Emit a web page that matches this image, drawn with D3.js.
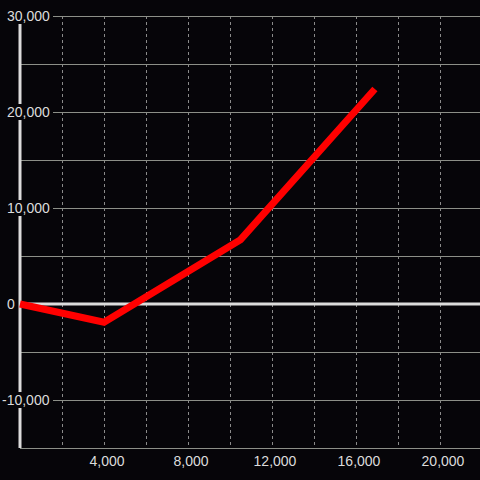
<!DOCTYPE html>
<html>
<head>
<meta charset="utf-8">
<script src="https://cdn.jsdelivr.net/npm/d3@7"></script>
<style>
  body { margin: 0; background: #060509; }
  svg { display: block; }
</style>
</head>
<body>
<div id="chart"></div>
<script>
const width = 480;
const height = 480;

// data
const xValues = [0, 4000, 10500, 16900];
const yValues = [0, -1900, 6700, 22400];
const xTicks = [4000, 8000, 12000, 16000, 20000];
const xGrid = [2000, 4000, 6000, 8000, 10000, 12000, 14000, 16000, 18000, 20000];
const yTicks = [-10000, 0, 10000, 20000, 30000];
const yGrid = [-10000, -5000, 5000, 10000, 15000, 20000, 25000, 30000];

const points = xValues.map((x, i) => ({ x: x, y: yValues[i] }));

const xScale = d3.scaleLinear()
    .domain([0, 21905])
    .range([20, 480]);

const yScale = d3.scaleLinear()
    .domain([-15000, 30000])
    .range([448, 16]);

const fmt = d3.format(",");

const svg = d3.select("#chart")
    .append("svg")
    .attr("width", width)
    .attr("height", height);

svg.append("rect")
    .attr("width", width)
    .attr("height", height)
    .attr("fill", "#060509");

// vertical dashed grid
svg.selectAll(".xgrid")
    .data(xGrid)
    .enter()
    .append("line")
    .attr("class", "xgrid")
    .attr("x1", d => Math.round(xScale(d)) + 0.5)
    .attr("x2", d => Math.round(xScale(d)) + 0.5)
    .attr("y1", yScale(30000))
    .attr("y2", yScale(-15000))
    .attr("stroke", "#8a8a8a")
    .attr("stroke-width", 1)
    .attr("stroke-dasharray", "3,3");

// horizontal grid
svg.selectAll(".ygrid")
    .data(yGrid)
    .enter()
    .append("line")
    .attr("class", "ygrid")
    .attr("x1", xScale(0))
    .attr("x2", width)
    .attr("y1", d => Math.round(yScale(d)) + 0.5)
    .attr("y2", d => Math.round(yScale(d)) + 0.5)
    .attr("stroke", "#8c8f88")
    .attr("stroke-width", 1);

// bottom axis line
svg.append("line")
    .attr("x1", xScale(0))
    .attr("x2", width)
    .attr("y1", yScale(-15000) + 0.5)
    .attr("y2", yScale(-15000) + 0.5)
    .attr("stroke", "#8c8f88")
    .attr("stroke-width", 1);

// zero line
svg.append("line")
    .attr("x1", xScale(0))
    .attr("x2", width)
    .attr("y1", yScale(0))
    .attr("y2", yScale(0))
    .attr("stroke", "#dcdcdc")
    .attr("stroke-width", 3);

// left axis line
svg.append("line")
    .attr("x1", xScale(0))
    .attr("x2", xScale(0))
    .attr("y1", yScale(30000))
    .attr("y2", yScale(-15000))
    .attr("stroke", "#dcdcdc")
    .attr("stroke-width", 3);

// data line
const line = d3.line()
    .x(d => xScale(d.x))
    .y(d => yScale(d.y));

svg.append("path")
    .datum(points)
    .attr("d", line)
    .attr("fill", "none")
    .attr("stroke", "#ff0000")
    .attr("stroke-width", 7)
    .attr("stroke-linejoin", "miter")
    .attr("stroke-linecap", "butt");

// y labels with background boxes
const yLabel = svg.selectAll(".ylabel")
    .data(yTicks)
    .enter()
    .append("g")
    .attr("class", "ylabel")
    .attr("transform", d => `translate(0, ${yScale(d)})`);

yLabel.append("rect")
    .attr("x", 0)
    .attr("y", -8)
    .attr("width", d => d === 0 ? 17 : 53)
    .attr("height", 16)
    .attr("fill", "#060509");

yLabel.append("text")
    .attr("x", d => d < 0 ? 2 : 7)
    .attr("dy", "0.35em")
    .attr("fill", "#dcdcdc")
    .style("font-family", "'Liberation Sans', Arial, sans-serif")
    .style("font-size", "14px")
    .text(d => fmt(d).replace("−", "-"));

// x labels
svg.selectAll(".xlabel")
    .data(xTicks)
    .enter()
    .append("text")
    .attr("class", "xlabel")
    .attr("x", d => xScale(d) + 3)
    .attr("y", 466)
    .attr("text-anchor", "middle")
    .attr("fill", "#dcdcdc")
    .style("font-family", "'Liberation Sans', Arial, sans-serif")
    .style("font-size", "14px")
    .text(d => fmt(d));
</script>
</body>
</html>
